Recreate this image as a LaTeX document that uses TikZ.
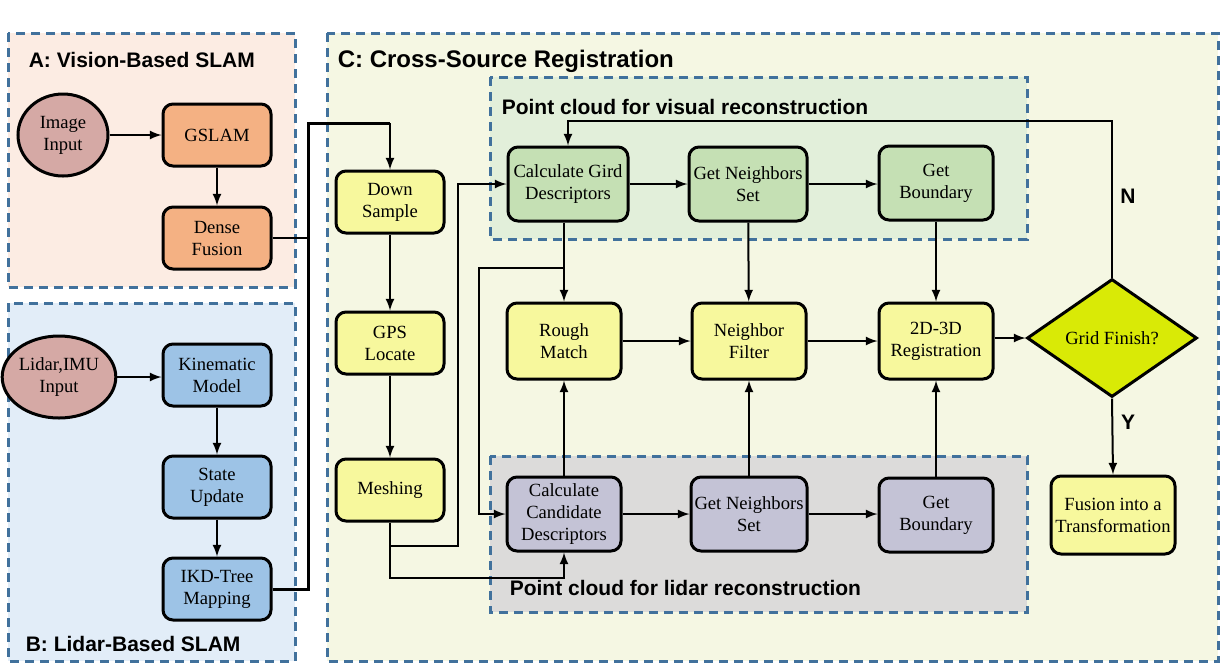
\documentclass[tikz,border=0pt]{standalone}
\usepackage{fontspec}
\setmainfont{Liberation Serif}
\setsansfont{Liberation Sans}
\usetikzlibrary{arrows,shapes.geometric,calc}

\definecolor{dashblue}{HTML}{41719C}
\definecolor{bgA}{HTML}{FCECE3}
\definecolor{bgB}{HTML}{E2EDF8}
\definecolor{bgC}{HTML}{F5F7E3}
\definecolor{bgVis}{HTML}{E2EFDA}
\definecolor{bgLid}{HTML}{DCDBDA}
\definecolor{inpink}{HTML}{D5A9A5}
\definecolor{boxorange}{HTML}{F4B183}
\definecolor{boxblue}{HTML}{9DC3E6}
\definecolor{boxyellow}{HTML}{F7F89D}
\definecolor{boxgreen}{HTML}{C5E0B4}
\definecolor{boxgray}{HTML}{C4C3D6}
\definecolor{decide}{HTML}{D9EA06}

\tikzset{
  panel/.style={draw=dashblue, line width=1.5pt, dash pattern=on 4.5pt off 3pt},
  paneltitle/.style={anchor=base west, inner sep=0pt, font=\sffamily\bfseries\fontsize{10.5}{12}\selectfont},
  proc/.style={draw, line width=1.5pt, rounded corners=5pt, align=center, inner sep=1pt,
    minimum width=54pt, minimum height=31pt, font=\fontsize{9.3}{11}\selectfont},
  reg/.style={proc, minimum width=57pt, minimum height=37pt},
  source/.style={ellipse, draw, line width=1.5pt, fill=inpink, align=center, inner sep=0pt,
    minimum width=45pt, minimum height=41pt, font=\fontsize{9.3}{11}\selectfont},
  flow/.style={->, line width=1pt},
  bus/.style={line width=1.5pt}
}

\begin{document}
\begin{tikzpicture}[>=latex, thick, x=0.5pt, y=-0.5pt]
\useasboundingbox (0,0) rectangle (1226,666);

% panels
\draw[panel, fill=bgA] (8,33) rectangle (295,287);
\draw[panel, fill=bgB] (8,303) rectangle (295,661);
\draw[panel, fill=bgC] (327,33) rectangle (1218,661);
\draw[panel, fill=bgVis] (490,77) rectangle (1027,239);
\draw[panel, fill=bgLid] (490,456) rectangle (1027,612);

\node (titleA) at (28,67) [paneltitle] {A: Vision-Based SLAM};
\node (titleB) at (25,651) [paneltitle] {B: Lidar-Based SLAM};
\node (titleC) at (337,67) [paneltitle, font=\sffamily\bfseries\fontsize{12}{14}\selectfont] {C: Cross-Source Registration};
\node (titleVis) at (501,114) [paneltitle] {Point cloud for visual reconstruction};
\node (titleLid) at (509,595) [paneltitle] {Point cloud for lidar reconstruction};

% A and B
\node (img) at (63,135) [source] {Image\\Input};
\node (gslam) at (217,135) [proc, fill=boxorange] {GSLAM};
\node (dense) at (217,238) [proc, fill=boxorange] {Dense\\Fusion};

\node (lidar) at (59,377) [source] {Lidar,IMU\\Input};
\node (kin) at (217,375) [proc, fill=boxblue] {Kinematic\\Model};
\node (state) at (217,487) [proc, fill=boxblue] {State\\Update};
\node (ikd) at (217,589) [proc, fill=boxblue] {IKD-Tree\\Mapping};

% C
\node (down) at (390,202) [proc, fill=boxyellow] {Down\\Sample};
\node (gps) at (390,343) [proc, fill=boxyellow] {GPS\\Locate};
\node (mesh) at (390,490) [proc, fill=boxyellow] {Meshing};

\node (gird) at (568,184) [reg, fill=boxgreen, minimum width=60pt] {Calculate Gird\\Descriptors};
\node (nbA) at (748,184) [reg, fill=boxgreen, minimum width=59pt] {Get Neighbors\\Set};
\node (bndA) at (936,183) [reg, fill=boxgreen] {Get\\Boundary};

\node (rough) at (564,341) [reg, fill=boxyellow, minimum height=38pt] {Rough\\Match};
\node (filter) at (749,341) [reg, fill=boxyellow, minimum height=38pt] {Neighbor\\Filter};
\node (regis) at (936,341) [reg, fill=boxyellow, minimum height=38pt] {2D-3D\\Registration};

\node (cand) at (564,514) [reg, fill=boxgray] {Calculate\\Candidate\\Descriptors};
\node (nbB) at (749,514) [reg, fill=boxgray, minimum width=58pt] {Get Neighbors\\Set};
\node (bndB) at (936,515) [reg, fill=boxgray] {Get\\Boundary};

\node (dec) at (1112,338) [diamond, draw, line width=1.5pt, fill=decide, aspect=1.42, inner sep=1pt,
  minimum width=85pt, minimum height=59pt, font=\fontsize{9.3}{11}\selectfont] {Grid Finish?};
\node (fuse) at (1113,515) [proc, fill=boxyellow, minimum width=62pt, minimum height=39pt] {Fusion into a\\Transformation};

% arrows A and B
\draw[flow] (img) -- (gslam);
\draw[flow] (gslam) -- (dense);
\draw[flow] (lidar) -- (lidar -| kin.west);
\draw[flow] (kin) -- (state);
\draw[flow] (state) -- (ikd);

\coordinate (bus) at (308,123);
\coordinate (busEnd) at (390,123);
\draw[line width=1pt] (dense.east) -- (dense.east -| bus);
\draw[bus] (ikd.east) -| (bus) -- (busEnd);
\draw[flow] (busEnd) -- (down.north);

% arrows C
\draw[flow] (down) -- (gps);
\draw[flow] (gps) -- (mesh);

\coordinate (m1) at (390,578);
\coordinate (m2) at (390,546);
\coordinate (m3) at (458,546);
\draw[flow] (mesh.south) -- (m1) -| (cand.south);
\draw[flow] (m2) -- (m3) |- (gird.west);

\draw[flow] (gird.south -| rough.north) -- (rough.north);
\coordinate (g1) at (564,268);
\coordinate (g2) at (479,268);
\draw[flow] (g1) -- (g2) |- (cand.west);

\draw[flow] (gird) -- (nbA);
\draw[flow] (nbA) -- (nbA -| bndA.west);
\draw[flow] (nbA) -- (filter);
\draw[flow] (bndA) -- (regis);

\draw[flow] (cand) -- (nbB);
\draw[flow] (nbB) -- (nbB -| bndB.west);
\draw[flow] (cand) -- (rough);
\draw[flow] (nbB) -- (filter);
\draw[flow] (bndB) -- (regis);

\draw[flow] (rough) -- (filter);
\draw[flow] (filter) -- (regis);
\draw[flow] (regis.east |- dec) -- (dec.west);

\coordinate (loop) at (1112,121);
\draw[flow] (dec.north) -- (loop) -| (gird.north);
\draw[flow] (dec.south) -- (fuse.north);

\node (lblN) at (1128,196) [font=\sffamily\bfseries\fontsize{10.5}{12}\selectfont] {N};
\node (lblY) at (1128,422) [font=\sffamily\bfseries\fontsize{10.5}{12}\selectfont] {Y};

\end{tikzpicture}
\end{document}
